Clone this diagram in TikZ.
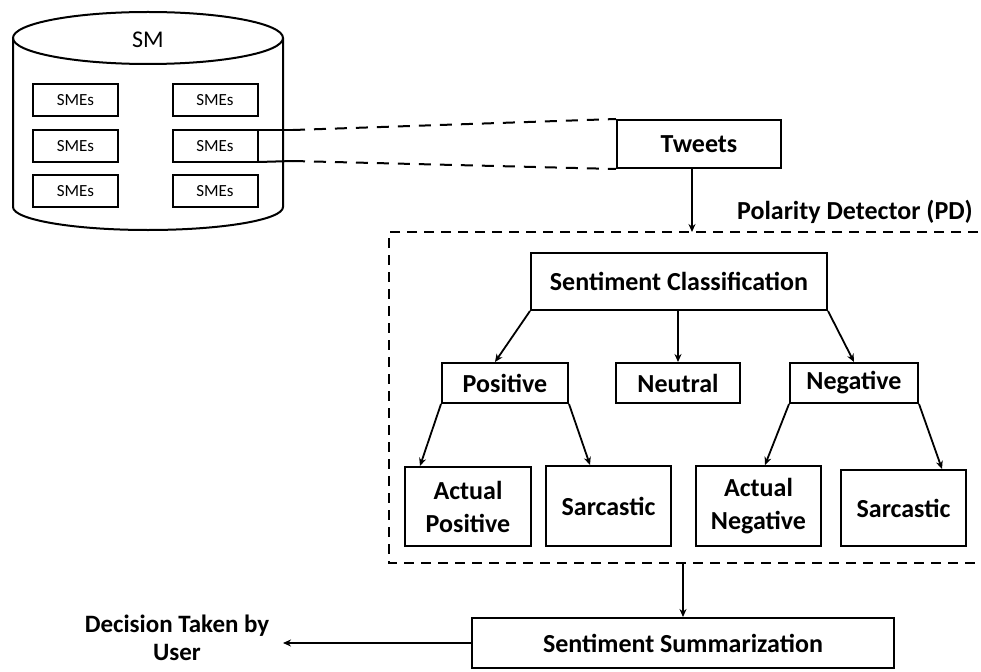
\documentclass[tikz,border=0pt]{standalone}
\usepackage{fontspec}
\setmainfont{Carlito}
\usetikzlibrary{arrows.meta}
\begin{document}
\begin{tikzpicture}[x=1pt,y=-1pt,
  box/.style={draw, line width=2pt, align=center, inner sep=0pt,
    font=\bfseries\fontsize{26}{33}\selectfont},
  smebox/.style={draw, line width=2pt, inner sep=0pt, minimum width=85pt, minimum height=32pt,
    font=\fontsize{17}{19}\selectfont},
  arr/.style={line width=1.8pt, -{Stealth[length=8pt,width=7pt]}},
  pdline/.style={line width=2pt, dash pattern=on 10pt off 7pt},
  twline/.style={line width=2pt, dash pattern=on 12pt off 9pt}]
\useasboundingbox (0,0) rectangle (981,671);
% cylinder
\draw[line width=2pt] (13,38) -- (13,207) arc[start angle=180, end angle=0, x radius=135, y radius=23] -- (283,38);
\draw[line width=2pt] (148,38) ellipse[x radius=135, y radius=26];
\node[font=\fontsize{24}{26}\selectfont] (sm) at (148,40) {SM};
\node[smebox] (s11) at (75.5,100.5) {SMEs};
\node[smebox] (s12) at (215,100.5) {SMEs};
\node[smebox] (s21) at (75.5,146) {SMEs};
\node[smebox] (s22) at (215,146) {SMEs};
\node[smebox] (s31) at (75.5,191) {SMEs};
\node[smebox] (s32) at (215,191) {SMEs};
% tweets
\node[box, minimum width=164pt, minimum height=48pt] (tw) at (699,144) {Tweets};
\coordinate (c1) at (293,130);
\coordinate (c2) at (293,161);
\draw[line width=2pt] ([yshift=-1pt]s22.north east) -- (c1);
\draw[line width=2pt] ([yshift=1pt]s22.south east) -- (c2);
\draw[twline] (c1) -- (tw.north west);
\draw[twline] (c2) -- (tw.south west);
% polarity detector
\draw[pdline] (995,232) -- (389,232) -- (389,563) -- (995,563);
\node[font=\bfseries\fontsize{26}{28}\selectfont, anchor=east, inner sep=0pt] (pd) at (973,212) {Polarity Detector (PD)};
\coordinate (pdtop) at (692,232);
\coordinate (pdbot) at (683,563);
\draw[arr] (tw.south -| pdtop) -- (pdtop);
% inner nodes
\node[box, minimum width=296pt, minimum height=57pt] (sc) at (679,281.5) {Sentiment Classification};
\node[box, minimum width=126pt, minimum height=40pt] (pos) at (505,383) {Positive};
\node[box, minimum width=124pt, minimum height=40pt] (neu) at (678,383) {Neutral};
\node[box, minimum width=128pt, minimum height=40pt] (neg) at (854,383) {Negative};
\node[box, minimum width=126pt, minimum height=79pt] (ap) at (468,506.5) {Actual\\Positive};
\node[box, minimum width=125pt, minimum height=80pt] (sp) at (608.5,506) {Sarcastic};
\node[box, minimum width=125pt, minimum height=80pt] (an) at (758.5,506) {Actual\\Negative};
\node[box, minimum width=125pt, minimum height=76pt] (sn) at (903.5,508) {Sarcastic};
\draw[arr] (sc.south west) -- ([xshift=-10pt]pos.north);
\draw[arr] (neu.north |- sc.south) -- (neu.north);
\draw[arr] (sc.south east) -- (neg.north);
\draw[arr] (pos.south west) -- ([xshift=-48pt]ap.north);
\draw[arr] (pos.south east) -- ([xshift=-18.5pt]sp.north);
\draw[arr] (neg.south west) -- ([xshift=6.5pt]an.north);
\draw[arr] (neg.south east) -- ([xshift=38.5pt]sn.north);
% summarization
\node[box, font=\bfseries\fontsize{26}{28}\selectfont, minimum width=422pt, minimum height=50pt] (sum) at (683,643) {Sentiment Summarization};
\draw[arr] (pdbot) -- (pdbot |- sum.north);
\node[font=\bfseries\fontsize{25}{28}\selectfont, align=center, inner sep=0pt] (dec) at (177,638) {Decision Taken by\\User};
\coordinate (dectip) at (283,643);
\draw[arr] (sum.west) -- (dectip);
\end{tikzpicture}
\end{document}
